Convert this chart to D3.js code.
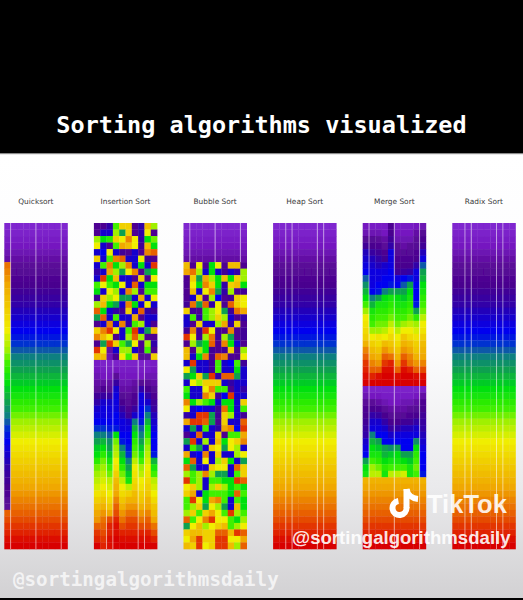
<!DOCTYPE html>
<html><head><meta charset="utf-8"><script src="https://cdn.jsdelivr.net/npm/d3@7"></script>
<style>html,body{margin:0;padding:0;background:#000}svg{display:block}</style></head><body>
<svg id="c" width="523" height="600"></svg>
<script>
const algorithms = ["Quicksort","Insertion Sort","Bubble Sort","Heap Sort","Merge Sort","Radix Sort"];
const sortedValues = [0,1,2,3,4,5,6,7,8,9,10,11,12,13,14,15,16,17,18,19,20,21,22,23,24,25,26,27,28,29,30,31,32,33,34,35,36,37,38,39,40,41,42,43,44,45,46,47,48,49];
const quickFirstColumn = [0,1,2,3,4,5,43,42,41,40,39,38,37,36,35,34,33,32,31,30,29,28,27,26,25,24,23,22,21,20,19,18,17,16,15,14,13,12,11,10,9,8,7,6,44,45,46,47,48,49];
const insertionTopRows = [
[8,8,12,28,36,36,8,12,38,30],[8,14,14,30,22,36,8,12,33,8],[30,25,27,36,33,42,33,12,25,29],[33,14,8,28,40,38,33,10,38,25],
[14,16,33,14,10,8,14,8,42,44],[36,14,28,42,44,14,14,33,10,8],[14,28,42,25,30,42,14,25,14,46],[12,14,40,30,22,33,42,8,22,25],
[14,46,25,38,14,14,8,36,8,33],[28,33,28,25,33,14,44,14,25,25],[25,14,33,30,14,42,30,8,28,28],[10,36,30,33,22,22,14,40,14,33],
[30,38,25,22,14,42,25,14,33,14],[44,25,14,12,10,36,14,44,12,10],[22,44,14,28,14,14,40,8,14,14],[8,14,42,14,42,12,28,30,14,8],
[36,42,46,33,14,28,46,14,22,38],[42,38,33,8,14,30,44,30,8,8],[8,22,46,36,28,22,33,8,30,12],[46,33,5,14,30,30,14,8,28,8],[38,38,4,8,33,28,36,6,6,36]];
const insertionBottomColumns = [
[2,3,4,5,6,10,12,14,15,16,18,20,22,24,25,27,29,30,31,32,34,36,38,40,41,44,46,47,49],
[1,2,3,5,8,11,14,15,15,16,18,20,23,25,27,29,30,31,32,33,35,37,39,41,43,44,45,46,47],
[1,2,3,5,6,11,14,15,15,16,17,19,21,22,24,26,28,29,31,32,33,35,37,40,45,47,47,48,48],
[1,3,6,11,14,15,15,15,16,16,17,25,29,30,31,33,34,36,38,39,40,42,44,45,47,48,48,49,49],
[1,2,3,4,5,7,9,11,13,15,15,16,17,20,23,25,27,29,31,33,35,37,39,41,43,45,47,48,49],
[1,2,3,4,5,6,7,8,10,14,15,16,16,17,18,20,22,24,26,31,36,39,41,43,45,46,47,48,49],
[1,2,3,5,6,8,9,11,14,20,23,25,27,28,29,31,33,34,35,36,38,39,41,43,45,46,47,48,49],
[1,2,3,7,12,15,15,16,16,17,19,20,22,24,26,28,30,31,33,34,36,37,39,41,43,45,47,48,49],
[1,2,4,6,9,12,14,18,20,23,26,27,29,30,31,32,33,34,35,36,37,39,40,42,44,45,47,48,49],
[2,3,4,5,7,8,10,11,13,14,15,16,16,16,17,23,26,28,31,32,33,35,37,38,40,43,45,47,49]];
const bubbleRows = [
[38,8,33,8,25,33,8,38,38,8],[40,43,30,14,25,14,10,14,12,30],[8,36,22,40,30,25,38,25,36,30],[8,33,25,42,36,25,12,36,38,25],
[8,38,14,33,42,22,12,30,8,10],[8,14,36,8,30,16,8,10,36,33],[10,43,22,44,12,33,8,44,36,33],[36,10,8,28,30,33,22,10,43,40],
[14,28,12,28,30,36,30,14,8,12],[14,8,36,14,14,30,40,12,36,8],[10,42,10,46,33,10,8,42,8,10],[46,33,10,30,43,10,30,22,8,10],
[8,30,22,25,44,8,42,25,14,8],[38,8,30,25,10,8,10,36,8,30],[38,14,25,42,8,44,42,8,8,33],[14,46,14,14,10,28,14,16,28,10],
[33,22,14,14,10,28,14,14,25,14],[22,25,36,22,46,12,44,44,22,14],[14,33,30,36,36,36,14,12,14,14],[28,14,14,33,42,28,28,8,14,12],
[25,14,14,42,36,10,16,46,14,14],[42,25,30,28,25,14,25,25,14,36],[33,14,16,14,14,10,43,25,14,28],[12,14,46,46,22,10,36,30,14,10],
[40,46,46,44,22,8,36,14,14,44],[14,22,14,28,14,12,40,42,16,46],[8,14,44,14,14,36,8,28,28,40],[22,46,14,30,14,38,25,33,36,42],
[14,28,22,14,36,33,22,33,30,14],[40,14,16,42,14,36,14,14,30,33],[25,44,14,33,14,30,36,25,14,22],[44,22,14,14,36,33,33,14,44,36],
[30,28,30,42,30,22,22,14,28,36],[46,28,30,14,28,28,25,25,46,44],[33,36,30,14,30,36,30,25,28,25],[36,40,14,25,28,28,28,25,44,28],
[28,46,33,25,40,42,28,14,28,25],[28,30,36,22,33,30,22,14,38,25],[30,36,28,36,40,33,28,46,30,28],[44,28,33,42,46,33,33,28,25,30],
[22,33,38,30,33,36,38,28,30,33],[36,38,38,36,36,44,44,38,46,44],[33,40,46,36,36,46,46,33,33,40],[38,36,46,33,36,46,46,38,30,44]];
const mergeFirstRunColumns = [
[3,4,7,10,13,14,15,16,19,21,23,25,28,30,33,34,35,36,39,42,44,46,47,48,49],
[2,4,7,9,11,13,14,15,15,15,16,20,23,26,27,28,30,33,36,38,40,42,44,47,49],
[2,4,6,8,10,12,13,15,15,16,17,22,26,27,28,29,30,34,35,37,39,41,44,48,49],
[2,3,5,6,8,10,14,15,16,16,20,25,26,27,28,29,31,33,38,41,44,46,48,49,49],
[8,9,10,12,15,15,15,16,16,17,22,26,27,28,29,31,33,35,37,39,43,47,48,49,49],
[2,3,4,6,7,8,9,10,15,16,22,25,26,27,28,29,31,33,35,37,39,41,44,48,49],
[2,3,4,5,7,8,9,11,16,19,22,24,26,27,28,30,33,37,39,41,44,46,48,49,49],
[2,3,4,6,7,8,9,12,17,22,25,26,27,28,29,31,33,35,38,40,42,43,47,49,49],
[3,5,6,7,8,9,12,15,15,16,16,16,17,22,27,30,32,34,36,37,39,41,44,48,49],
[4,7,9,10,13,15,19,22,23,25,26,27,28,29,31,33,34,36,38,39,40,42,45,48,49]];
const mergeSecondRunColumns = [
[2,4,6,8,9,10,11,12,14,15,16,22,25,26],
[1,3,6,9,12,14,15,20,23,25,26,28,30,31],
[1,3,5,8,11,14,15,16,22,24,26,27,29,31],
[1,2,4,6,9,12,14,16,16,22,23,25,27,26],
[1,2,3,5,7,9,11,14,16,21,24,26,28,31],
[1,2,3,5,7,9,12,15,16,22,25,26,28,31],
[1,2,4,5,7,10,13,15,16,16,22,25,28,32],
[1,2,4,6,8,10,13,15,16,16,22,24,26,26],
[1,3,5,7,9,12,14,15,21,25,27,28,29,28],
[2,5,8,9,10,11,12,13,14,15,16,16,16,17]];
const gapColumns = [[1,5,9],[2,3,7,8],[1,5,9],[2,3,7,8],[1,5,9],[2,3,7,8]];
const gapFromRow = [0,21,0,0,0,0];
const gapToRow = [50,50,6,50,50,50];
const colorStops = [0,3,6,9,12,16,18,20,22,25,28,30,33,36,40,44,47,49];
const colorValues = ["#7f25cf","#7519c0","#5a0a98","#48008f","#3000a8","#0000f0","#0030d0","#108080","#10a050","#00e010","#40f000","#a0f000","#f0ee00","#f0d000","#f0a800","#e86000","#e02000","#d80000"];

const columnIndex = d3.range(10);
const rowIndex = d3.range(50);
const panels = [
  (r,c)=> c===0 ? quickFirstColumn[r] : sortedValues[r],
  (r,c)=> r<21 ? insertionTopRows[r][c] : insertionBottomColumns[c][r-21],
  (r,c)=> r<6 ? sortedValues[r] : bubbleRows[r-6][c],
  (r,c)=> sortedValues[r],
  (r,c)=> r<25 ? mergeFirstRunColumns[c][r] : r<39 ? mergeSecondRunColumns[c][r-25] : sortedValues[r],
  (r,c)=> sortedValues[r]
];

const svg = d3.select("#c");
const defs = svg.append("defs");
const g = defs.append("linearGradient").attr("id","bg").attr("x1",0).attr("x2",0).attr("y1",0).attr("y2",1);
[[0,"#ffffff"],[0.45,"#fbfbfc"],[0.75,"#eaeaec"],[1,"#d2d1d3"]].forEach(s=>g.append("stop").attr("offset",s[0]).attr("stop-color",s[1]));
defs.append("filter").attr("id","soft").attr("x","-5%").attr("y","-5%").attr("width","110%").attr("height","110%")
  .append("feGaussianBlur").attr("stdDeviation",0.7);

svg.append("rect").attr("width",523).attr("height",600).attr("fill","#000");
svg.append("rect").attr("y",154).attr("width",523).attr("height",444).attr("fill","url(#bg)");
svg.append("rect").attr("y",153).attr("width",523).attr("height",1.2).attr("fill","#8a8a8a");

const color = d3.scaleLinear().domain(colorStops).range(colorValues);
const panelX = d3.scalePoint().domain(algorithms).range([4.3,452.3]);
const colX = d3.scaleBand().domain(columnIndex).range([0,63.2]);
const rowY = d3.scaleBand().domain(rowIndex).range([223,549]);

const marks = svg.append("g").attr("filter","url(#soft)");
algorithms.forEach((name,p)=>{
  const pg = marks.append("g").attr("transform",`translate(${panelX(name)},0)`);
  const cells = rowIndex.flatMap(r=>columnIndex.map(c=>({r,c,v:panels[p](r,c)})));
  pg.selectAll("rect").data(cells).join("rect")
    .attr("x",d=>colX(d.c)).attr("y",d=>rowY(d.r))
    .attr("width",colX.bandwidth()+0.3).attr("height",rowY.bandwidth()+0.3)
    .attr("fill",d=>color(d.v));
  pg.selectAll("line").data(gapColumns[p]).join("line")
    .attr("x1",d=>colX(d)).attr("x2",d=>colX(d))
    .attr("y1",rowY(gapFromRow[p])).attr("y2",gapToRow[p]===50?549:rowY(gapToRow[p]))
    .attr("stroke","#fff").attr("stroke-opacity",0.55).attr("stroke-width",1);
  svg.append("text").attr("x",panelX(name)+31.6).attr("y",204).attr("text-anchor","middle")
    .attr("font-family","DejaVu Sans").attr("font-size",7.4).attr("fill","#3a3a3a").text(name);
});

svg.append("text").attr("x",261.5).attr("y",132.5).attr("text-anchor","middle")
  .attr("font-family","DejaVu Sans Mono").attr("font-weight",700).attr("font-size",23.5).attr("fill","#fff").text("Sorting algorithms visualized");
svg.append("text").attr("x",13).attr("y",586).attr("font-family","DejaVu Sans Mono").attr("font-weight",700)
  .attr("font-size",19.2).attr("fill","#fff").attr("fill-opacity",0.72).text("@sortingalgorithmsdaily");

const note = d3.path();
note.arc(399.5,508,7,-0.1,Math.PI*1.45,false);
const notePath = svg.append("g");
notePath.append("path").attr("d",`M406.5 508V489`).attr("stroke","#fff").attr("stroke-width",6).attr("fill","none");
notePath.append("path").attr("d",note.toString()).attr("stroke","#fff").attr("stroke-width",6).attr("fill","none");
notePath.append("path").attr("d","M406.5 489C407.5 495 412 498.5 418 499").attr("stroke","#fff").attr("stroke-width",6).attr("fill","none");
svg.append("text").attr("x",427).attr("y",513).attr("font-family","Liberation Sans").attr("font-weight",700)
  .attr("font-size",25.5).attr("fill","#fff").attr("fill-opacity",0.88).text("TikTok");
svg.append("text").attr("x",292).attr("y",544).attr("font-family","Liberation Sans").attr("font-weight",700)
  .attr("font-size",18.6).attr("fill","#fff").attr("fill-opacity",0.9).text("@sortingalgorithmsdaily");
</script></body></html>
